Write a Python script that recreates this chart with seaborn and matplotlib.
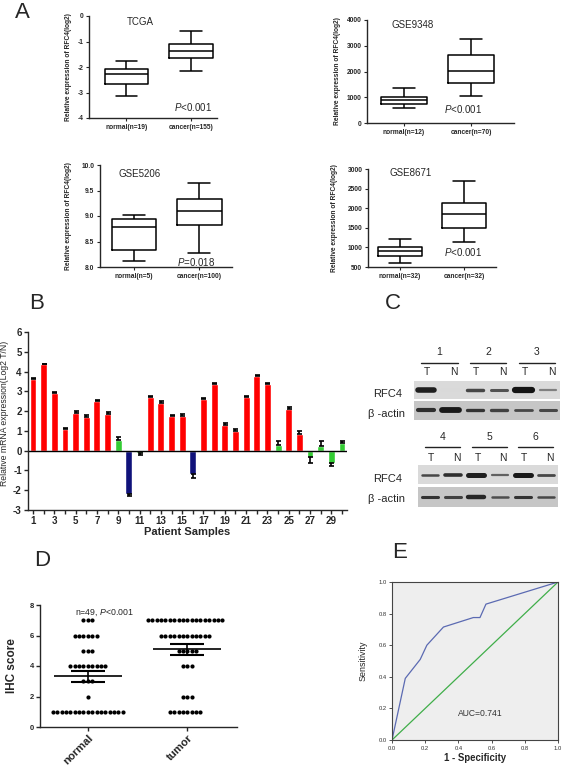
import matplotlib
matplotlib.use('Agg')
import numpy as np
import pandas as pd
import matplotlib.pyplot as plt
import seaborn as sns
from matplotlib.ticker import FormatStrFormatter

# ---- panel A: box summaries (min, q1, median, q3, max)
tcga_normal = [-3.13, -2.66, -2.27, -2.06, -1.75]
tcga_cancer = [-2.16, -1.64, -1.36, -1.08, -0.6]
gse9348_normal = [597, 727, 909, 1013, 1364]
gse9348_cancer = [1052, 1571, 2026, 2636, 3260]
gse5206_normal = [8.12, 8.33, 8.79, 8.95, 9.02]
gse5206_cancer = [8.28, 8.82, 9.10, 9.34, 9.65]
gse8671_normal = [602, 790, 901, 1003, 1225]
gse8671_cancer = [1140, 1498, 1848, 2121, 2692]

# ---- panel B: qPCR log2 T/N per patient
b_samples = list(range(1, 31))
b_values = [3.62, 4.36, 2.93, 1.08, 1.92, 1.72, 2.51, 1.84, 0.55, -2.2,
            -0.1, 2.73, 2.42, 1.75, 1.75, -1.2, 2.6, 3.37, 1.3, 1.0,
            2.72, 3.77, 3.37, 0.3, 2.12, 0.82, -0.33, 0.26, -0.6, 0.38]
b_errors = [0.04, 0.04, 0.04, 0.06, 0.07, 0.07, 0.04, 0.1, 0.13, 0.1,
            0.1, 0.04, 0.07, 0.03, 0.1, 0.2, 0.04, 0.03, 0.1, 0.08,
            0.05, 0.04, 0.04, 0.2, 0.1, 0.17, 0.28, 0.22, 0.15, 0.1]
b_groups = ['up', 'up', 'up', 'up', 'up', 'up', 'up', 'up', 'mid', 'down',
            'mid', 'up', 'up', 'up', 'up', 'down', 'up', 'up', 'up', 'up',
            'up', 'up', 'up', 'mid', 'up', 'up', 'mid', 'mid', 'mid', 'mid']
b_palette = {'up': '#ff0000', 'mid': '#33cc33', 'down': '#10127a'}

# ---- panel C: western blot band darkness / thickness (T,N x 3 pairs)
blot_numbers_top = ['1', '2', '3']
blot_numbers_bot = ['4', '5', '6']
rfc4_top_dark = [0.88, 0.15, 0.72, 0.68, 0.92, 0.5]
rfc4_top_thick = [4.0, 1.5, 2.5, 2.2, 4.5, 1.6]
actin_top_dark = [0.82, 0.9, 0.8, 0.75, 0.72, 0.72]
actin_top_thick = [3.0, 4.2, 2.4, 2.4, 2.0, 2.2]
rfc4_bot_dark = [0.72, 0.82, 0.88, 0.62, 0.9, 0.72]
rfc4_bot_thick = [1.8, 2.6, 3.6, 1.6, 3.6, 2.0]
actin_bot_dark = [0.8, 0.75, 0.85, 0.7, 0.8, 0.72]
actin_bot_thick = [2.2, 2.2, 3.2, 1.8, 2.2, 1.8]

# ---- panel D: IHC scores (score levels and dot counts per level)
d_levels = [7, 6, 5, 4, 3, 2, 1]
d_normal_counts = [3, 6, 3, 9, 3, 1, 17]
d_tumor_counts = [18, 12, 5, 3, 0, 3, 8]
d_mean = [3.33, 5.1]
d_sem = [0.36, 0.36]

# ---- panel E: ROC curve
roc_fpr = [0.0, 0.08, 0.17, 0.21, 0.31, 0.49, 0.53, 0.566, 1.0]
roc_tpr = [0.0, 0.39, 0.51, 0.60, 0.715, 0.775, 0.775, 0.86, 1.0]

sns.set_style('ticks')
plt.rcParams['font.family'] = ['Liberation Sans', 'DejaVu Sans']
plt.rcParams['mathtext.fontset'] = 'custom'
plt.rcParams['mathtext.rm'] = 'Liberation Sans'
plt.rcParams['mathtext.it'] = 'Liberation Sans:italic'
plt.rcParams['axes.unicode_minus'] = False

W, H = 567, 770
fig = plt.figure(figsize=(W / 100, H / 100), dpi=100)


def add_ax(x0, y0, x1, y1):
    return fig.add_axes([x0 / W, 1 - y1 / H, (x1 - x0) / W, (y1 - y0) / H])


def bold_ticks(ax):
    for lab in ax.get_xticklabels() + ax.get_yticklabels():
        lab.set_fontweight('bold')


def box_panel(rect, normal, cancer, names, title, ptext, ylim, yticks, fmt,
              xlim, tpos, ppos, ylab_x):
    ax = add_ax(*rect)
    df = pd.DataFrame({'group': [names[0]] * len(normal) + [names[1]] * len(cancer),
                       'value': normal + cancer})
    sns.boxplot(data=df, x='group', y='value', order=names, ax=ax, width=0.68,
                fill=False, color='black', linewidth=1.1, whis=(0, 100))
    ax.set_xlim(*xlim)
    ax.set_ylim(*ylim)
    ax.set_yticks(yticks)
    ax.yaxis.set_major_formatter(FormatStrFormatter(fmt))
    ax.tick_params(labelsize=4.8, width=0.8, length=2.5, pad=1.5)
    bold_ticks(ax)
    sns.despine(ax=ax)
    for s in ax.spines.values():
        s.set_linewidth(1.0)
    ax.set_xlabel('')
    ax.set_ylabel('Relative expression of RFC4(log2)', fontsize=4.8, fontweight='bold')
    ax.yaxis.set_label_coords(ylab_x, 0.5)
    ax.text(tpos[0], tpos[1], title, transform=ax.transAxes, fontsize=7,
            ha='center', va='center')
    ax.text(ppos[0], ppos[1], ptext, transform=ax.transAxes, fontsize=7,
            ha='center', va='center')
    return ax


box_panel((89, 16, 217, 118), tcga_normal, tcga_cancer,
          ['normal(n=19)', 'cancer(n=155)'], 'TCGA', '$P$<0.001',
          (-4, 0), [-4, -3, -2, -1, 0], '%d', (-0.58, 1.4), (0.40, 0.94), (0.81, 0.11), -0.135)
box_panel((367, 20, 514, 123), gse9348_normal, gse9348_cancer,
          ['normal(n=12)', 'cancer(n=70)'], 'GSE9348', '$P$<0.001',
          (0, 4000), [0, 1000, 2000, 3000, 4000], '%d', (-0.55, 1.64), (0.31, 0.95), (0.65, 0.14), -0.18)
box_panel((100, 165, 232, 267), gse5206_normal, gse5206_cancer,
          ['normal(n=5)', 'cancer(n=100)'], 'GSE5206', '$P$=0.018',
          (8.0, 10.0), [8.0, 8.5, 9.0, 9.5, 10.0], '%.1f', (-0.52, 1.5), (0.30, 0.91), (0.73, 0.05), -0.21)
box_panel((368, 169, 496, 267), gse8671_normal, gse8671_cancer,
          ['normal(n=32)', 'cancer(n=32)'], 'GSE8671', '$P$<0.001',
          (500, 3000), [500, 1000, 1500, 2000, 2500, 3000], '%d', (-0.5, 1.5), (0.33, 0.96), (0.74, 0.15), -0.234)

# ---- B
axb = add_ax(28, 332, 347, 510)
dfb = pd.DataFrame({'sample': b_samples, 'value': b_values, 'group': b_groups})
sns.barplot(data=dfb, x='sample', y='value', hue='group', palette=b_palette,
            dodge=False, width=0.65, saturation=1, errorbar=None, legend=False, ax=axb)
vals = np.array(b_values)
errs = np.array(b_errors)
lower = np.where(vals < 0, errs, 0)
upper = np.where(vals >= 0, errs, 0)
axb.errorbar(np.arange(len(vals)), vals, yerr=[lower, upper], fmt='none',
             ecolor='black', elinewidth=1.2, capsize=1.8, capthick=1.2)
axb.axhline(0, color='black', lw=1.0)
axb.set_xlim(-0.47, 29.47)
axb.set_ylim(-3, 6)
axb.set_yticks(range(-3, 7))
axb.set_xticks(np.arange(0, 30, 2))
axb.set_xticklabels([str(s) for s in b_samples[::2]])
axb.set_xticks(np.arange(30), minor=True)
axb.tick_params(labelsize=7, width=1.0, length=3, pad=1.5)
axb.tick_params(which='minor', width=1.0, length=3)
bold_ticks(axb)
sns.despine(ax=axb)
for s in axb.spines.values():
    s.set_linewidth(1.0)
axb.set_xlabel('Patient Samples', fontsize=8, fontweight='bold')
axb.xaxis.set_label_coords(0.5, -0.095)
axb.set_ylabel('Relative mRNA expression(Log2 T/N)', fontsize=6.2)
axb.yaxis.set_label_coords(-0.058, 0.545)


# ---- C
def blot_strip(rect, dark, thick, bg):
    ax = add_ax(*rect)
    ax.set_facecolor(bg)
    ax.set_xlim(-0.5, 5.5)
    ax.set_ylim(-1, 1)
    for i in range(6):
        g = 1 - dark[i]
        lc = ax.hlines(0, i - 0.34, i + 0.34, colors=[(g, g, g)], linewidth=thick[i])
        lc.set_capstyle('round')
    ax.set_xticks([])
    ax.set_yticks([])
    for s in ax.spines.values():
        s.set_visible(False)
    return ax


def blot_header(ax, numbers, y_num, y_line, y_tn):
    tr = ax.get_xaxis_transform()
    for k, num in enumerate(numbers):
        c = 2 * k + 0.55
        ax.text(c, y_num, num, transform=tr, ha='center', va='center', fontsize=7.5)
        ax.plot([c - 0.75, c + 0.75], [y_line, y_line], transform=tr, color='#222222',
                lw=1.0, clip_on=False)
        ax.text(2 * k + 0.05, y_tn, 'T', transform=tr, ha='center', va='center', fontsize=7.5)
        ax.text(2 * k + 1.15, y_tn, 'N', transform=tr, ha='center', va='center', fontsize=7.5)


c1 = blot_strip((414, 381, 560, 399), rfc4_top_dark, rfc4_top_thick, '#dadada')
c2 = blot_strip((414, 401, 560, 420), actin_top_dark, actin_top_thick, '#c6c6c6')
c3 = blot_strip((418, 465, 558, 484), rfc4_bot_dark, rfc4_bot_thick, '#dadada')
c4 = blot_strip((418, 487, 558, 507), actin_bot_dark, actin_bot_thick, '#c6c6c6')
blot_header(c1, blot_numbers_top, 2.6, 2.0, 1.5)
blot_header(c3, blot_numbers_bot, 2.47, 1.95, 1.37)
c1.text(-0.08, 0.3, 'RFC4', transform=c1.transAxes, ha='right', va='center', fontsize=8)
c2.text(-0.06, 0.32, 'β -actin', transform=c2.transAxes, ha='right', va='center', fontsize=8)
c3.text(-0.11, 0.26, 'RFC4', transform=c3.transAxes, ha='right', va='center', fontsize=8)
c4.text(-0.09, 0.4, 'β -actin', transform=c4.transAxes, ha='right', va='center', fontsize=8)

# ---- D
axd = add_ax(40, 605, 237, 727)
groups_d = ['normal', 'tumor']
dfd = pd.DataFrame({
    'group': ['normal'] * sum(d_normal_counts) + ['tumor'] * sum(d_tumor_counts),
    'score': np.concatenate([np.repeat(d_levels, d_normal_counts),
                             np.repeat(d_levels, d_tumor_counts)]),
})
sns.swarmplot(data=dfd, x='group', y='score', order=groups_d, color='black',
              size=3.0, ax=axd)
for i, (m, e) in enumerate(zip(d_mean, d_sem)):
    axd.hlines(m, i - 0.34, i + 0.34, color='black', lw=1.2, zorder=4)
    axd.errorbar(i, m, yerr=e, fmt='none', ecolor='black', elinewidth=1.2,
                 capsize=12, capthick=1.5, zorder=4)
axd.set_xlim(-0.48, 1.5)
axd.set_ylim(0, 8)
axd.set_yticks([0, 2, 4, 6, 8])
axd.tick_params(labelsize=5.5, width=1.0, length=3, pad=1.5)
axd.tick_params(axis='x', labelsize=8, pad=1)
for lab in axd.get_xticklabels():
    lab.set_rotation(45)
    lab.set_ha('right')
    lab.set_rotation_mode('anchor')
bold_ticks(axd)
sns.despine(ax=axd)
for s in axd.spines.values():
    s.set_linewidth(1.0)
axd.set_xlabel('')
axd.set_ylabel('IHC score', fontsize=8.5, fontweight='bold')
axd.yaxis.set_label_coords(-0.11, 0.5)
axd.text(0.33, 0.935, 'n=49, $P$<0.001', transform=axd.transAxes, ha='center',
         va='center', fontsize=6.3)

# ---- E
axe = add_ax(392, 582, 558, 740)
axe.set_facecolor('#eeeeee')
sns.lineplot(x=[0, 1], y=[0, 1], color='#3fae49', lw=0.9, ax=axe)
sns.lineplot(x=roc_fpr, y=roc_tpr, sort=False, color='#5b6ab2', lw=0.9, ax=axe)
axe.set_xlim(0, 1)
axe.set_ylim(0, 1)
ticks_e = [0.0, 0.2, 0.4, 0.6, 0.8, 1.0]
axe.set_xticks(ticks_e)
axe.set_yticks(ticks_e)
axe.xaxis.set_major_formatter(FormatStrFormatter('%.1f'))
axe.yaxis.set_major_formatter(FormatStrFormatter('%.1f'))
axe.tick_params(labelsize=4.2, width=0.6, length=2, pad=2, colors='#333333')
for s in axe.spines.values():
    s.set_linewidth(0.8)
    s.set_color('#444444')
axe.set_xlabel('1 - Specificity', fontsize=6.9, fontweight='bold')
axe.xaxis.set_label_coords(0.5, -0.085)
axe.set_ylabel('Sensitivity', fontsize=6.4)
axe.yaxis.set_label_coords(-0.145, 0.5)
axe.text(0.53, 0.17, 'AUC=0.741', transform=axe.transAxes, ha='center',
         va='center', fontsize=6.2, color='#333333')

# ---- panel letters
for letter, (x, y) in zip('ABCDE', [(22, 13), (37, 303), (393, 303), (42, 560), (400, 552)]):
    fig.text(x / W, 1 - y / H, letter, fontsize=16, ha='center', va='center')

fig.savefig('out.png', dpi=100)
